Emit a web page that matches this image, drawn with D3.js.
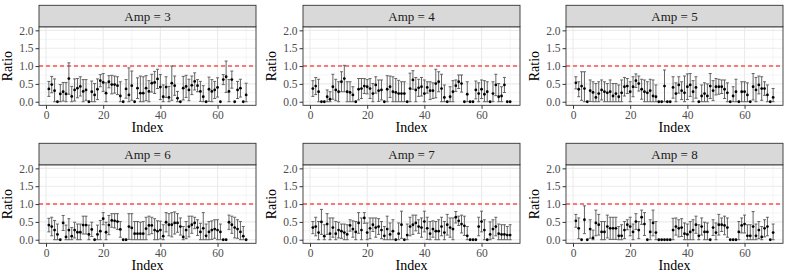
<!DOCTYPE html>
<html>
<head>
<meta charset="utf-8">
<script src="https://cdn.jsdelivr.net/npm/d3@7"></script>
<style>
  body { margin: 0; background: #fff; }
  svg text { font-family: "Times New Roman", "Liberation Serif", Times, serif; }
</style>
</head>
<body>
<div id="chart"></div>
<script>
// facet levels and per-facet ratio / error half-width, index 1..70
var ampLevels = [3, 4, 5, 6, 7, 8];

var amp3Ratio = [0.36,0.48,0.31,0,0.22,0.28,0.22,0.65,0.15,0.33,0.38,0.43,0.29,0.33,0,0.28,0.19,0.35,0.59,0.54,
  0.24,0.56,0.48,0.48,0.45,0.16,0,0.36,0.19,0.45,0,0.38,0.24,0.24,0.38,0.29,0.52,0.54,0.64,0.41,
  0.14,0.41,0.12,0.52,0.45,0.1,0,0.38,0.43,0.33,0.46,0.57,0.45,0.29,0.14,0,0.35,0.29,0.33,0.4,
  0,0.62,0.7,0.29,0.62,0,0.33,0.38,0,0.19];
var amp3Err = [0.21,0.23,0.33,0,0.26,0.26,0.32,0.44,0.28,0.31,0.27,0.27,0.33,0.29,0,0.3,0.32,0.29,0.17,0.25,
  0.29,0.17,0.26,0.24,0.25,0.4,0,0.26,0.76,0.41,0,0.29,0.48,0.46,0.35,0.3,0.25,0.31,0.27,0.35,
  0.33,0.29,0.31,0.48,0.27,0.19,0,0.33,0.31,0.3,0.26,0.24,0.17,0.28,0.31,0,0.34,0.33,0.24,0.27,
  0,0.14,0.44,0.33,0.24,0,0.24,0.25,0,0.33];

var amp4Ratio = [0.37,0.44,0.28,0,0,0.14,0.07,0.42,0.33,0.28,0.56,0.65,0.28,0.26,0.19,0,0.35,0.37,0.44,0.42,
  0.37,0.23,0.47,0.31,0.33,0,0.35,0.42,0.28,0.26,0.23,0.23,0.23,0,0.37,0.61,0.33,0.39,0.42,0.23,
  0.4,0.31,0.31,0.51,0.56,0.37,0.12,0,0.14,0.28,0.45,0.56,0.51,0,0.21,0,0,0.33,0.23,0.35,
  0.21,0.28,0,0.23,0.47,0.14,0.16,0.47,0,0];
var amp4Err = [0.22,0.24,0.35,0,0,0.19,0.21,0.35,0.3,0.28,0.28,0.37,0.28,0.3,0.23,0,0.3,0.28,0.21,0.2,
  0.28,0.28,0.23,0.3,0.28,0,0.38,0.3,0.42,0.39,0.37,0.33,0.33,0,0.43,0.26,0.35,0.24,0.26,0.38,
  0.16,0.25,0.22,0.4,0.28,0.4,0.35,0,0.28,0.31,0.16,0.19,0.24,0,0.35,0,0,0.25,0.3,0.26,
  0.38,0.28,0,0.33,0.3,0.37,0.26,0.21,0,0];

var amp5Ratio = [0.53,0.35,0.44,0.37,0,0.31,0.26,0.12,0.23,0.33,0.28,0.25,0.28,0.16,0.23,0.14,0.25,0.42,0.44,0.28,
  0.42,0.59,0.51,0.35,0.28,0.25,0.31,0.16,0.14,0,0,0.44,0,0,0.4,0.23,0.47,0.31,0.25,0.42,
  0.47,0.28,0.4,0,0.16,0.23,0.16,0.44,0.31,0.42,0.42,0.42,0.35,0.25,0,0.16,0.28,0,0.28,0.28,
  0.19,0,0.42,0.33,0.47,0.37,0.37,0.19,0,0.12];
var amp5Err = [0.17,0.21,0.4,0.47,0,0.3,0.3,0.39,0.33,0.28,0.28,0.26,0.33,0.35,0.28,0.33,0.36,0.26,0.21,0.28,
  0.28,0.19,0.21,0.28,0.33,0.31,0.32,0.45,0.33,0,0,0.45,0,0,0.3,0.3,0.23,0.25,0.47,0.36,
  0.32,0.31,0.3,0,0.31,0.3,0.34,0.35,0.28,0.23,0.21,0.19,0.26,0.28,0,0.26,0.35,0,0.28,0.28,
  0.34,0,0.37,0.35,0.25,0.33,0.19,0.28,0,0.25];

var amp6Ratio = [0.41,0.37,0.27,0.15,0,0.47,0.08,0.27,0.1,0.27,0.21,0.21,0.41,0.41,0.15,0.29,0,0.15,0.24,0.59,
  0.21,0.41,0.54,0.53,0.51,0.29,0,0,0.37,0.33,0.17,0.17,0.17,0.17,0.31,0.4,0.4,0.27,0.24,0.27,
  0.1,0.49,0.42,0.42,0.47,0.47,0.37,0.08,0.27,0.37,0.42,0.47,0.34,0.22,0.32,0.11,0.22,0.27,0.3,0.27,
  0.22,0,0,0.49,0.42,0.34,0.3,0.22,0.1,0];
var amp6Err = [0.19,0.26,0.27,0.29,0,0.21,0.33,0.32,0.24,0.22,0.23,0.23,0.25,0.25,0.26,0.2,0,0.26,0.3,0.17,
  0.28,0.27,0.19,0.2,0.22,0.22,0,0,0.36,0.4,0.34,0.34,0.32,0.34,0.32,0.26,0.23,0.32,0.29,0.25,
  0.32,0.27,0.31,0.34,0.31,0.26,0.24,0.29,0.24,0.29,0.24,0.16,0.22,0.24,0.44,0.33,0.29,0.26,0.26,0.29,
  0.22,0,0,0.2,0.24,0.29,0.26,0.29,0.27,0];

var amp7Ratio = [0.34,0.37,0.2,0.5,0.1,0.44,0.17,0.34,0.17,0.27,0.24,0.2,0.15,0.4,0.3,0.22,0.47,0.27,0.61,0.2,
  0.32,0.42,0.34,0.37,0.27,0.11,0.3,0.15,0.24,0,0.17,0.42,0,0.13,0.37,0.42,0.47,0.37,0.34,0.51,
  0.32,0.17,0.3,0.24,0.24,0.37,0.2,0.42,0.34,0.3,0.63,0.53,0.44,0.39,0.11,0,0,0,0.37,0.51,
  0.27,0,0.15,0.3,0.37,0.17,0.15,0.15,0.13,0.13];
var amp7Err = [0.17,0.26,0.31,0.35,0.32,0.29,0.44,0.27,0.34,0.22,0.2,0.24,0.27,0.16,0.23,0.29,0.29,0.34,0.15,0.27,
  0.29,0.19,0.27,0.22,0.24,0.26,0.36,0.32,0.32,0,0.3,0.38,0,0.31,0.26,0.27,0.22,0.19,0.27,0.29,
  0.31,0.34,0.23,0.27,0.32,0.26,0.31,0.29,0.27,0.31,0.16,0.13,0.25,0.27,0.26,0,0,0,0.26,0.29,
  0.29,0,0.35,0.26,0.26,0.27,0.27,0.27,0.24,0.29];

var amp8Ratio = [0.53,0.32,0,0.56,0,0.3,0.05,0.47,0.42,0.22,0.22,0.37,0.32,0.32,0.32,0.11,0.11,0.27,0.42,0.37,
  0.22,0.51,0.27,0.63,0.44,0,0.22,0.47,0.2,0,0,0,0,0,0.27,0.37,0.32,0.34,0.17,0.15,
  0.22,0.27,0.42,0.11,0.37,0.22,0.22,0,0.34,0.2,0.42,0.42,0.4,0.34,0,0,0,0.22,0.4,0.44,
  0.11,0.11,0.37,0.11,0.27,0.08,0.32,0.37,0,0.2];
var amp8Err = [0.18,0.29,0,0.39,0,0.26,0.22,0.36,0.29,0.29,0.29,0.32,0.31,0.31,0.31,0.26,0.31,0.24,0.14,0.26,
  0.22,0.22,0.24,0.2,0.32,0,0.34,0.36,0.31,0,0,0,0,0,0.33,0.24,0.24,0.25,0.3,0.29,
  0.29,0.29,0.24,0.31,0.24,0.27,0.25,0,0.22,0.27,0.29,0.19,0.26,0.27,0,0,0,0.29,0.21,0.25,
  0.31,0.31,0.42,0.33,0.24,0.29,0.24,0.26,0,0.24];

var ratioByAmp = [amp3Ratio, amp4Ratio, amp5Ratio, amp6Ratio, amp7Ratio, amp8Ratio];
var errByAmp = [amp3Err, amp4Err, amp5Err, amp6Err, amp7Err, amp8Err];

var xTicks = [0, 20, 40, 60];
var xMinor = [10, 30, 50, 70];
var yTicks = [0, 0.5, 1, 1.5, 2];
var yMinor = [0.25, 0.75, 1.25, 1.75];
var refLine = 1;

// layout
var width = 789, height = 276;
var colLeft = [39, 303, 566];
var panelW = 217;
var rowTop = [5.3, 143.3];
var stripH = 21.5;
var panelH = 78.5;
var serif = "'Times New Roman', 'Liberation Serif', Times, serif";

var svg = d3.select("#chart")
  .append("svg")
  .attr("width", width)
  .attr("height", height)
  .attr("font-family", serif);

var x = d3.scaleLinear()
  .domain([-2.45, 73.45])
  .range([0, panelW]);

var y = d3.scaleLinear()
  .domain([-0.1, 2.1])
  .range([panelH, 0]);

ampLevels.forEach(function(amp, k) {
  var col = k % 3, row = Math.floor(k / 3);
  var g = svg.append("g")
    .attr("transform", "translate(" + colLeft[col] + "," + (rowTop[row] + stripH) + ")");

  var data = ratioByAmp[k].map(function(v, i) {
    return { idx: i + 1, v: v, e: errByAmp[k][i] };
  });

  // panel background + grid
  g.append("rect").attr("width", panelW).attr("height", panelH).attr("fill", "#fff");
  g.selectAll(".xminor").data(xMinor).enter().append("line")
    .attr("x1", d => x(d)).attr("x2", d => x(d)).attr("y1", 0).attr("y2", panelH)
    .attr("stroke", "#ebebeb").attr("stroke-width", 0.55);
  g.selectAll(".yminor").data(yMinor).enter().append("line")
    .attr("x1", 0).attr("x2", panelW).attr("y1", d => y(d)).attr("y2", d => y(d))
    .attr("stroke", "#ebebeb").attr("stroke-width", 0.55);
  g.selectAll(".xmajor").data(xTicks).enter().append("line")
    .attr("x1", d => x(d)).attr("x2", d => x(d)).attr("y1", 0).attr("y2", panelH)
    .attr("stroke", "#ebebeb").attr("stroke-width", 1.1);
  g.selectAll(".ymajor").data(yTicks).enter().append("line")
    .attr("x1", 0).attr("x2", panelW).attr("y1", d => y(d)).attr("y2", d => y(d))
    .attr("stroke", "#ebebeb").attr("stroke-width", 1.1);

  // reference line
  g.append("line")
    .attr("x1", 0).attr("x2", panelW).attr("y1", y(refLine)).attr("y2", y(refLine))
    .attr("stroke", "#ff0000").attr("stroke-width", 1.1).attr("stroke-dasharray", "4,3");

  // error bars
  var bars = data.filter(d => d.e > 0);
  var eb = g.selectAll(".eb").data(bars).enter().append("g").attr("stroke", "#555").attr("stroke-width", 0.9);
  eb.append("line")
    .attr("x1", d => x(d.idx)).attr("x2", d => x(d.idx))
    .attr("y1", d => y(Math.max(0, d.v - d.e))).attr("y2", d => y(d.v + d.e));
  eb.append("line")
    .attr("x1", d => x(d.idx) - 1.5).attr("x2", d => x(d.idx) + 1.5)
    .attr("y1", d => y(d.v + d.e)).attr("y2", d => y(d.v + d.e));
  eb.append("line")
    .attr("x1", d => x(d.idx) - 1.5).attr("x2", d => x(d.idx) + 1.5)
    .attr("y1", d => y(Math.max(0, d.v - d.e))).attr("y2", d => y(Math.max(0, d.v - d.e)));

  // points
  g.selectAll(".pt").data(data).enter().append("circle")
    .attr("cx", d => x(d.idx)).attr("cy", d => y(d.v))
    .attr("r", 1.4).attr("fill", "#000");

  // panel border
  g.append("rect").attr("width", panelW).attr("height", panelH)
    .attr("fill", "none").attr("stroke", "#333").attr("stroke-width", 0.9);

  // axes
  var xa = g.append("g").attr("transform", "translate(0," + panelH + ")")
    .call(d3.axisBottom(x).tickValues(xTicks).tickSize(3.5).tickPadding(2));
  var ya = g.append("g")
    .call(d3.axisLeft(y).tickValues(yTicks).tickFormat(d3.format(".1f")).tickSize(3.5).tickPadding(2));
  [xa, ya].forEach(function(a) {
    a.attr("font-family", serif).attr("font-size", 11.5);
    a.select(".domain").remove();
    a.selectAll("line").attr("stroke", "#333");
    a.selectAll("text").attr("fill", "#4d4d4d");
  });

  // strip
  g.append("rect").attr("y", -stripH).attr("width", panelW).attr("height", stripH)
    .attr("fill", "#d9d9d9").attr("stroke", "#333").attr("stroke-width", 0.9);
  g.append("text").attr("x", panelW / 2).attr("y", -stripH / 2).attr("dy", "0.35em")
    .attr("text-anchor", "middle").attr("font-size", 13).attr("fill", "#1a1a1a")
    .text("Amp = " + amp);

  // axis titles
  g.append("text").attr("x", panelW / 2).attr("y", panelH + 27)
    .attr("text-anchor", "middle").attr("font-size", 14).attr("fill", "#000")
    .text("Index");
  g.append("text")
    .attr("transform", "translate(" + (-27) + "," + (panelH / 2) + ") rotate(-90)")
    .attr("text-anchor", "middle").attr("font-size", 14).attr("fill", "#000")
    .text("Ratio");
});
</script>
</body>
</html>
